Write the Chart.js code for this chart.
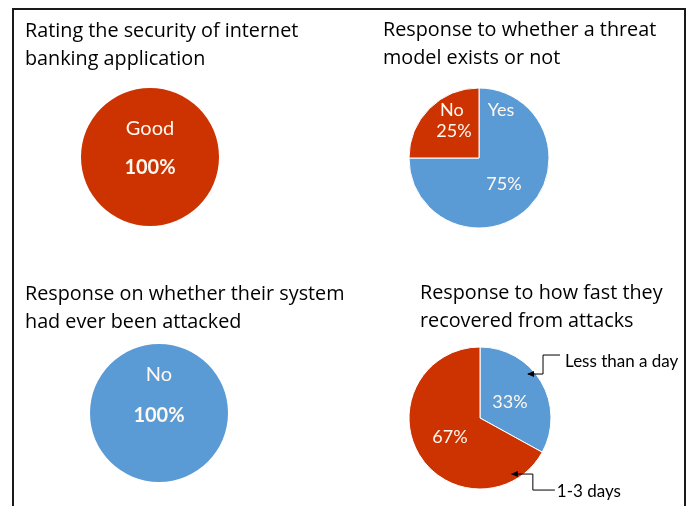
<!DOCTYPE html>
<html>
<head>
<meta charset="utf-8">
<script src="https://cdn.jsdelivr.net/npm/chart.js@4.4.0/dist/chart.umd.min.js"></script>
<style>
  body { margin: 0; background: #fff; }
  #wrap { position: relative; width: 693px; height: 506px; overflow: hidden; }
  #wrap canvas { position: absolute; }
  #frame { position: absolute; left: 12px; top: 8px; width: 670px; height: 540px; border: 2px solid #1a1a1a; pointer-events: none; }
</style>
</head>
<body>
<div id="wrap">
  <canvas id="c1" width="346" height="253" style="left:0;top:0"></canvas>
  <canvas id="c2" width="347" height="253" style="left:346px;top:0"></canvas>
  <canvas id="c3" width="346" height="253" style="left:0;top:253px"></canvas>
  <canvas id="c4" width="347" height="253" style="left:346px;top:253px"></canvas>
  <div id="frame"></div>
</div>
<script>
const securityLabels = ['Good'];
const securityValues = [100];

const threatLabels = ['Yes', 'No'];
const threatValues = [75, 25];

const attackLabels = ['No'];
const attackValues = [100];

const recoveryLabels = ['Less than a day', '1-3 days'];
const recoveryValues = [33, 67];

const titles = [
    ['Rating the security of internet', 'banking application'],
    ['Response to whether a threat', 'model exists or not'],
    ['Response on whether their system', 'had ever been attacked'],
    ['Response to how fast they', 'recovered from attacks']
];

const red = '#cc3300';
const blue = '#5b9bd5';
const inPie = '#fff8f0';
const fontFamily = 'Lato, "Open Sans", sans-serif';
const titleFont = '19.8px "Open Sans", Lato, sans-serif';

function pct(v){
    return v + '%';
}

// draws the titles, the slice texts and the leader lines
const pieText = {
    id: 'pieText',
    afterDraw(chart, args, opts) {
        const ctx = chart.ctx;
        const arcs = chart.getDatasetMeta(0).data;
        ctx.save();
        ctx.fillStyle = '#000';
        ctx.font = titleFont;
        ctx.textAlign = 'left';
        ctx.textBaseline = 'alphabetic';
        opts.title.forEach((line, k) => ctx.fillText(line, opts.tx, opts.ty + k * 27.5));

        opts.items.forEach(it => {
            const a = arcs[it.i].getProps(['x', 'y', 'startAngle', 'endAngle', 'outerRadius'], true);
            const ang = a.startAngle + it.t * (a.endAngle - a.startAngle);
            const x = a.x + Math.cos(ang) * a.outerRadius * it.f;
            const y = a.y + Math.sin(ang) * a.outerRadius * it.f;
            ctx.font = (it.bold ? 'bold ' : '') + it.size + 'px ' + fontFamily;
            ctx.textBaseline = 'middle';
            if (it.leader) {
                ctx.strokeStyle = '#000';
                ctx.lineWidth = 1;
                ctx.beginPath();
                ctx.moveTo(x, y);
                it.leader.forEach(pt => ctx.lineTo(x + pt[0], y + pt[1]));
                ctx.stroke();
                ctx.fillStyle = '#000';
                ctx.beginPath();
                ctx.moveTo(x - 1, y);
                ctx.lineTo(x + 6, y - 3);
                ctx.lineTo(x + 6, y + 3);
                ctx.closePath();
                ctx.fill();
                ctx.textAlign = 'left';
                ctx.fillText(it.text, x + it.off[0], y + it.off[1]);
            } else {
                ctx.fillStyle = inPie;
                ctx.textAlign = 'center';
                ctx.fillText(it.text, x, y);
            }
        });
        ctx.restore();
    }
};

function makePie(p){
    const [L, T, W, H] = p.box;
    const s = 2 * p.r + p.border;
    const left = p.cx - L - s / 2;
    const top = p.cy - T - s / 2;

    new Chart(document.getElementById(p.id).getContext('2d'), {
        type: 'pie',
        data: {
            labels: p.labels,
            datasets: [{
                data: p.values,
                backgroundColor: p.colors,
                borderColor: '#ffffff',
                borderWidth: p.border
            }]
        },
        options: {
            responsive: false,
            animation: false,
            layout: { padding: { left: left, top: top, right: W - left - s, bottom: H - top - s } },
            plugins: {
                legend: { display: false },
                tooltip: { enabled: false },
                pieText: {
                    title: p.title,
                    tx: p.tx - L,
                    ty: p.ty - T,
                    items: p.items
                }
            }
        },
        plugins: [pieText]
    });
}

makePie({
    id: 'c1', box: [0, 0, 346, 253], cx: 150, cy: 157, r: 69, border: 0,
    labels: securityLabels, values: securityValues, colors: [red],
    title: titles[0], tx: 25, ty: 37,
    items: [
        { i: 0, text: securityLabels[0], t: 0, f: 0.41, size: 20 },
        { i: 0, text: pct(securityValues[0]), t: 0.5, f: 0.15, size: 20, bold: true }
    ]
});

makePie({
    id: 'c2', box: [346, 0, 347, 253], cx: 479, cy: 158, r: 70, border: 1,
    labels: threatLabels, values: threatValues, colors: [blue, red],
    title: titles[1], tx: 383, ty: 36,
    items: [
        { i: 0, text: threatLabels[0], t: 0.091, f: 0.754, size: 18 },
        { i: 0, text: pct(threatValues[0]), t: 0.504, f: 0.515, size: 18 },
        { i: 1, text: threatLabels[1], t: 0.673, f: 0.787, size: 18 },
        { i: 1, text: pct(threatValues[1]), t: 0.524, f: 0.526, size: 18 }
    ]
});

makePie({
    id: 'c3', box: [0, 253, 346, 253], cx: 159, cy: 413, r: 69, border: 0,
    labels: attackLabels, values: attackValues, colors: [blue],
    title: titles[2], tx: 25, ty: 300,
    items: [
        { i: 0, text: attackLabels[0], t: 0, f: 0.56, size: 20 },
        { i: 0, text: pct(attackValues[0]), t: 0.5, f: 0.04, size: 20, bold: true }
    ]
});

makePie({
    id: 'c4', box: [346, 253, 347, 253], cx: 480, cy: 418, r: 71, border: 1,
    labels: recoveryLabels, values: recoveryValues, colors: [blue, red],
    title: titles[3], tx: 420, ty: 299,
    items: [
        { i: 0, text: pct(recoveryValues[0]), t: 0.521, f: 0.479, size: 18 },
        { i: 1, text: pct(recoveryValues[1]), t: 0.49, f: 0.504, size: 18 },
        { i: 0, text: recoveryLabels[0], t: 0.4, f: 0.917, size: 17,
          leader: [[15, 0], [15, -19], [32, -19]], off: [37, -13] },
        { i: 1, text: recoveryLabels[1], t: 0.131, f: 0.908, size: 17,
          leader: [[21, 0], [21, 16], [43, 16]], off: [45, 17] }
    ]
});
</script>
</body>
</html>
